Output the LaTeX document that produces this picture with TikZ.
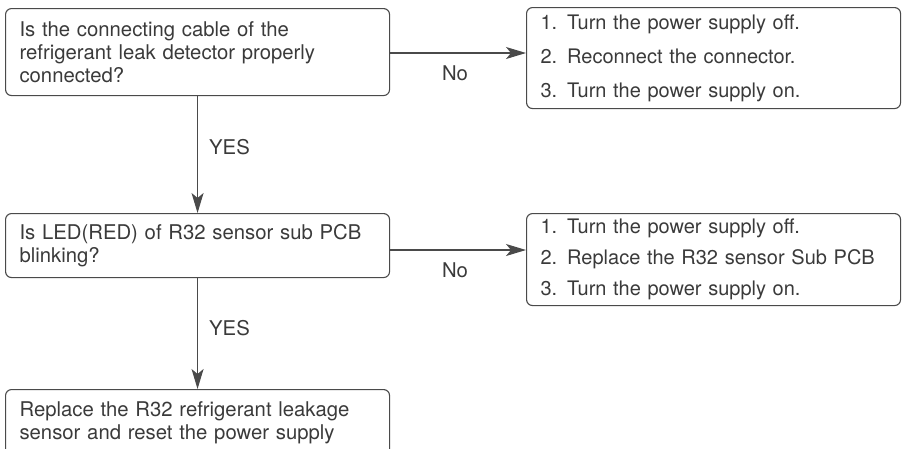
\documentclass[tikz,border=0pt]{standalone}
\usepackage{fontspec}
\setmainfont{TeX Gyre Heros}
\usetikzlibrary{arrows.meta}
\definecolor{linegray}{HTML}{4A4A4A}
\definecolor{textgray}{HTML}{3A3A3A}
\begin{document}
\begin{tikzpicture}[x=1pt,y=-1pt,
  box/.style={draw=linegray, line width=1.1pt, rounded corners=6pt, inner xsep=14pt, inner ysep=0pt,
    align=left, text=textgray, anchor=north west},
  qbox/.style={box, minimum width=384pt, text width=356pt, font=\fontsize{20.3}{23}\selectfont},
  abox/.style={box, minimum width=374pt, text width=346pt},
  lbl/.style={text=textgray, font=\fontsize{20.3}{22}\selectfont, inner sep=0pt},
  arr/.style={draw=linegray, line width=1.1pt, -{Stealth[length=20pt,width=12pt,inset=5pt]}}]
\useasboundingbox (0,0) rectangle (913,448);
\clip (0,0) rectangle (913,448);

\node[qbox, minimum height=87pt] (q1) at (5,8)
  {Is the connecting cable of the\\refrigerant leak detector properly\\connected?};
\node[abox, minimum height=101pt, font=\fontsize{20}{34}\selectfont] (a1) at (526,7)
  {1. Turn the power supply off.\\2. Reconnect the connector.\\3. Turn the power supply on.};
\node[qbox, minimum height=64pt] (q2) at (5,213)
  {Is LED(RED) of R32 sensor sub PCB\\blinking?};
\node[abox, minimum height=92pt, font=\fontsize{20}{31}\selectfont] (a2) at (526,213)
  {1. Turn the power supply off.\\2. Replace the R32 sensor Sub PCB\\3. Turn the power supply on.};
\node[qbox, minimum height=66pt] (q3) at (5,389)
  {Replace the R32 refrigerant leakage\\sensor and reset the power supply};

\draw[arr] (q1.east |- 0,53) -- (a1.west |- 0,53);
\draw[arr] (q2.east |- 0,250) -- (a2.west |- 0,250);
\draw[arr] (q1.south) -- (q2.north);
\draw[arr] (q2.south) -- (q3.north);

\node[lbl] (no1) at (455,73) {No};
\node[lbl] (no2) at (455,270) {No};
\node[lbl, anchor=west] (yes1) at (209,147) {YES};
\node[lbl, anchor=west] (yes2) at (209,328) {YES};
\end{tikzpicture}
\end{document}
